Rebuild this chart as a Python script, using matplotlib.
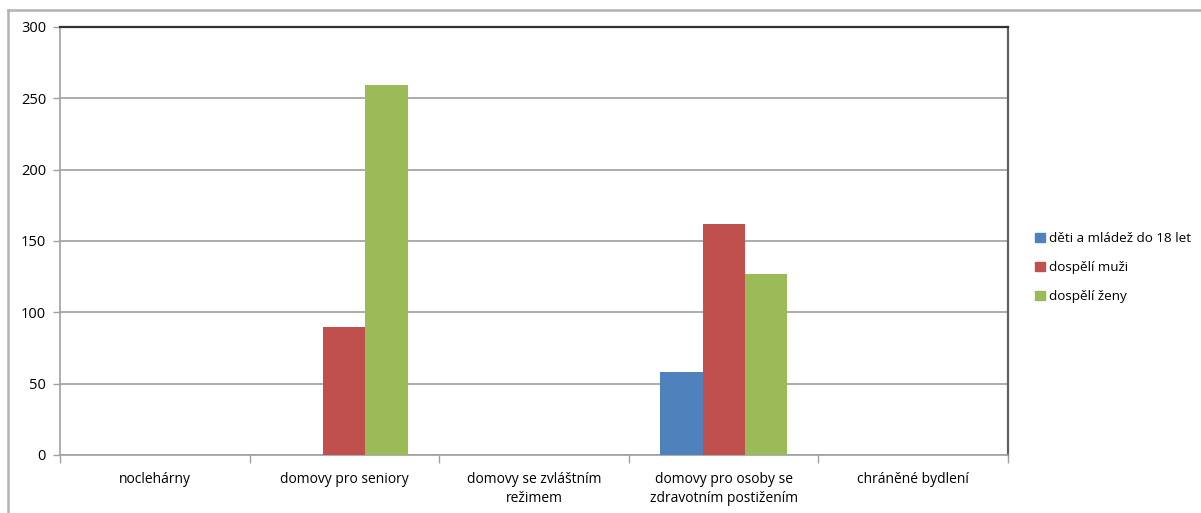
import numpy as np
import matplotlib
matplotlib.use("Agg")
import matplotlib.pyplot as plt
from matplotlib.lines import Line2D
from matplotlib.patches import Patch

categories = ["noclehárny", "domovy pro seniory", "domovy se zvláštním\nrežimem",
              "domovy pro osoby se\nzdravotním postižením", "chráněné bydlení"]
series_names = ["děti a mládež do 18 let", "dospělí muži", "dospělí ženy"]
deti = [0, 0, 0, 58, 0]
muzi = [0, 90, 0, 162, 0]
zeny = [0, 259, 0, 127, 0]
colors = ["#4f81bd", "#c0504d", "#9bbb59"]
yticks = [0, 50, 100, 150, 200, 250, 300]

plt.rcParams['font.family'] = ['Open Sans', 'DejaVu Sans']

fig = plt.figure(figsize=(12.01, 5.13), dpi=100)
ax = fig.add_axes([60 / 1201, 58 / 513, 948 / 1201, 428 / 513])

x = np.arange(len(categories))
w = 1 / 4.5
for i, vals in enumerate([deti, muzi, zeny]):
    ax.bar(x + (i - 1) * w, vals, width=w, color=colors[i], zorder=3)

ax.set_xlim(-0.5, len(categories) - 0.5)
ax.set_ylim(0, 300)
ax.set_yticks(yticks)
ax.tick_params(axis='y', labelsize=10.5, length=5, color='#a0a0a0', width=1, pad=5)
ax.yaxis.grid(True, color='#a6a6a6', linewidth=1.3, zorder=0)
ax.set_xticks(x)
ax.set_xticklabels(categories, fontsize=10, linespacing=1.35)
ax.tick_params(axis='x', length=0, pad=12)
ax.set_xticks(np.arange(-0.5, len(categories)), minor=True)
ax.tick_params(axis='x', which='minor', length=6, color='#a0a0a0', width=1)

ax.spines['left'].set_color('#a0a0a0')
ax.spines['bottom'].set_color('#a0a0a0')
ax.spines['left'].set_linewidth(1.2)
ax.spines['bottom'].set_linewidth(1.2)
ax.spines['top'].set_color('#333333')
ax.spines['right'].set_color('#606060')
ax.spines['top'].set_linewidth(1.6)
ax.spines['right'].set_linewidth(1.6)

handles = [Patch(color=c, label=n) for c, n in zip(colors, series_names)]
fig.legend(handles=handles, loc='upper left', bbox_to_anchor=(1023 / 1201, 1 - 220 / 513),
           frameon=False, fontsize=9.7, handlelength=0.7, handleheight=0.7,
           handletextpad=0.3, labelspacing=1.2)

# outer chart frame (partly cropped)
fig.add_artist(Line2D([8 / 1201, 1.0], [1 - 10 / 513, 1 - 10 / 513], color='#b3b3b3', linewidth=1.8))
fig.add_artist(Line2D([8 / 1201, 8 / 1201], [0, 1 - 10 / 513], color='#b3b3b3', linewidth=1.8))

fig.savefig("out.png", dpi=100)
